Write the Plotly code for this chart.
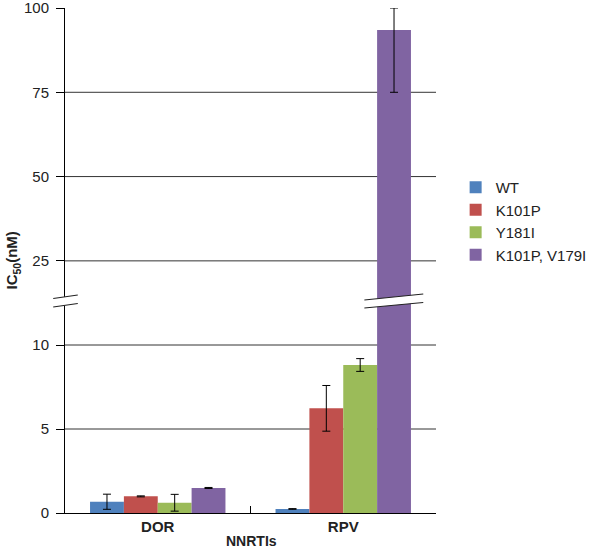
import plotly.graph_objects as go

# ---- data ----
categories = ["DOR", "RPV"]
series_names = ["WT", "K101P", "Y181I", "K101P, V179I"]
series_colors = ["#4F81BD", "#C0504D", "#9BBB59", "#8064A2"]

wt = [0.67, 0.24]
wt_err = [0.45, 0.02]
k101p = [0.99, 6.23]
k101p_err = [0.03, 1.36]
y181i = [0.61, 8.81]
y181i_err = [0.50, 0.38]
k101p_v179i = [1.49, 93.5]
k101p_v179i_err_plus = [0.03, 6.5]
k101p_v179i_err_minus = [0.03, 18.5]

lower_ticks = [0, 5, 10]
upper_ticks = [25, 50, 75, 100]
lower_range = [0, 12.5]
upper_range = [12.5, 100]

series_values = [wt, k101p, y181i, k101p_v179i]
series_err_plus = [wt_err, k101p_err, y181i_err, k101p_v179i_err_plus]
series_err_minus = [wt_err, k101p_err, y181i_err, k101p_v179i_err_minus]

FONT = "Liberation Sans, Arial, Helvetica, sans-serif"

fig = go.Figure()
for name, col, vals, ep, em in zip(series_names, series_colors, series_values,
                                   series_err_plus, series_err_minus):
    for yax, show in (("y", True), ("y2", False)):
        fig.add_trace(go.Bar(
            x=categories, y=vals, name=name, marker=dict(color=col, line=dict(width=0)),
            xaxis="x", yaxis=yax, showlegend=show, legendgroup=name,
            error_y=dict(type="data", array=ep, arrayminus=em, symmetric=False,
                         color="black", thickness=1, width=4),
        ))

# geometry helpers (pixel -> paper)
L, R, T, B = 65, 443, 8, 513
W, H = R - L, B - T
def px(x):
    return (x - L) / W
def py(y):
    return (B - y) / H

d = py(303)

shapes = []
# gridlines (drawn under bars)
for v in lower_ticks[1:]:
    shapes.append(dict(type="line", xref="paper", yref="y", x0=0, x1=1, y0=v, y1=v,
                       line=dict(color="#333333", width=1), layer="below"))
for v in upper_ticks[:-1]:
    shapes.append(dict(type="line", xref="paper", yref="y2", x0=0, x1=1, y0=v, y1=v,
                       line=dict(color="#333333", width=1), layer="below"))
# category separator tick on x axis
shapes.append(dict(type="line", xref="x", yref="paper", x0=0.5, x1=0.5, y0=0, y1=py(506),
                   line=dict(color="black", width=1)))

# break marks
def brk(xa, xb, ya1, yb1, ya2, yb2):
    out = []
    path = (f"M {px(xa)},{py(ya1)} L {px(xb)},{py(yb1)} "
            f"L {px(xb)},{py(yb2)} L {px(xa)},{py(ya2)} Z")
    out.append(dict(type="path", xref="paper", yref="paper", path=path,
                    fillcolor="white", line=dict(width=0), layer="above"))
    out.append(dict(type="line", xref="paper", yref="paper", x0=px(xa), y0=py(ya1),
                    x1=px(xb), y1=py(yb1), line=dict(color="#222222", width=1.2)))
    out.append(dict(type="line", xref="paper", yref="paper", x0=px(xa), y0=py(ya2),
                    x1=px(xb), y1=py(yb2), line=dict(color="#222222", width=1.2)))
    return out

shapes += brk(53, 78, 298.5, 295, 307, 303.5)
shapes += brk(370, 430, 300, 294, 308, 302.5)

fig.update_layout(
    width=600, height=550,
    margin=dict(l=L, r=600 - R, t=T, b=550 - B),
    paper_bgcolor="white", plot_bgcolor="white",
    font=dict(family=FONT, color="#222222", size=15),
    barmode="group", bargap=0.27, bargroupgap=0,
    showlegend=True,
    legend=dict(x=px(463), y=py(171), xanchor="left", yanchor="top",
                font=dict(size=15, family=FONT, color="#222222"),
                bgcolor="rgba(0,0,0,0)", traceorder="normal"),
    xaxis=dict(domain=[0, 1], anchor="y", type="category", showline=True,
               linecolor="black", linewidth=1, ticks="", showgrid=False,
               tickfont=dict(size=15, weight="bold", color="#222222"),
               range=[-0.5, 1.5], fixedrange=True, automargin=False),
    yaxis=dict(domain=[0, d], range=lower_range, tickvals=lower_ticks,
               ticks="outside", ticklen=8, tickcolor="black", showline=True,
               linecolor="black", linewidth=1, showgrid=False, zeroline=False,
               tickfont=dict(size=15), anchor="x", automargin=False,
               ticklabeloverflow="allow", ticklabelstandoff=4),
    yaxis2=dict(domain=[d, 1], range=upper_range, tickvals=upper_ticks,
                ticks="outside", ticklen=8, tickcolor="black", showline=True,
                linecolor="black", linewidth=1, showgrid=False, zeroline=False,
                tickfont=dict(size=15), anchor="x", automargin=False,
                ticklabeloverflow="allow", ticklabelstandoff=4),
    shapes=shapes,
    annotations=[
        dict(text="<b>NNRTIs</b>", xref="paper", yref="paper", x=px(255), y=py(541),
             xanchor="center", yanchor="middle", showarrow=False,
             font=dict(size=14, color="#222222")),
        dict(text="<b>IC<sub>50</sub>(nM)</b>", xref="paper", yref="paper",
             x=px(12), y=0.5, xanchor="center", yanchor="middle", textangle=-90,
             showarrow=False, font=dict(size=15, color="#222222")),
    ],
)

fig.write_html("out.html", config={"displayModeBar": False},
               post_script="document.body.style.margin='0';")
